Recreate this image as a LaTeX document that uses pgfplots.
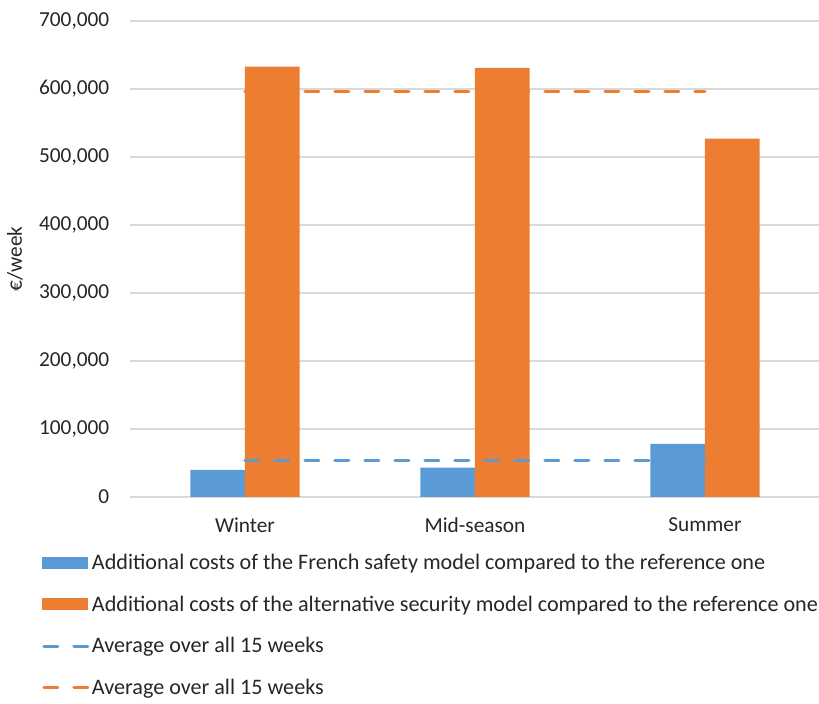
\documentclass[border=0pt]{standalone}
\usepackage{fontspec}
\setmainfont{Carlito}
\usepackage{pgfplots}
\pgfplotsset{compat=1.18}
\definecolor{cblue}{HTML}{5B9BD5}
\definecolor{corange}{HTML}{ED7D31}
\definecolor{cgrid}{HTML}{D9D9D9}
\begin{document}
\begin{tikzpicture}
\begin{axis}[
  scale only axis, width=517.5pt, height=357pt,
  xmin=-0.5, xmax=2.5, ymin=0, ymax=700000,
  xtick={0,1,2}, xticklabels={Winter,Mid-season,Summer},
  ytick={0,100000,200000,300000,400000,500000,600000,700000},
  scaled y ticks=false,
  /pgf/number format/.cd, fixed, 1000 sep={,}, assume math mode=true,
  /pgfplots/.cd,
  ymajorgrids, grid style={cgrid, line width=1pt},
  axis line style={draw=none},
  major tick length=0pt,
  tick label style={font=\fontsize{16}{19}\selectfont, text=black!85},
  xticklabel style={yshift=-12pt},
  yticklabel style={xshift=-12pt},
  ylabel={€/week}, ylabel style={font=\fontsize{16}{19}\selectfont, text=black!85,
    at={(axis description cs:-0.1667,0.5)}, anchor=center},
  ybar=0pt, bar width=41pt,
  legend style={at={(axis description cs:-0.1275,-0.1135)}, anchor=north west, draw=none, fill=none,
    font=\fontsize{16.6}{19}\selectfont, text=black!85, row sep=14.3pt, inner sep=0pt,
    /tikz/every even column/.append style={column sep=6pt}},
  legend cell align=left,
  clip=false,
]
\addplot[fill=cblue, draw=none, area legend,
  legend image code/.code={\fill[cblue] (0pt,-4.5pt) rectangle (34pt,4.5pt);}]
  coordinates {(0,40000) (1,43000) (2,78000)};
\addplot[fill=corange, draw=none, area legend,
  legend image code/.code={\fill[corange] (0pt,-4.5pt) rectangle (34pt,4.5pt);}]
  coordinates {(0,633000) (1,631000) (2,527000)};
\addplot[sharp plot, cblue, line width=2.25pt, line cap=round, dash pattern=on 10.5pt off 12pt,
  legend image code/.code={\draw[cblue, line width=2.25pt, line cap=round, dash pattern=on 10.5pt off 12pt] (1pt,0pt) -- (34pt,0pt);}]
  coordinates {(0,53000) (2,53000)};
\addplot[sharp plot, corange, line width=2.25pt, line cap=round, dash pattern=on 10.5pt off 12pt,
  legend image code/.code={\draw[corange, line width=2.25pt, line cap=round, dash pattern=on 10.5pt off 12pt] (1pt,0pt) -- (34pt,0pt);}]
  coordinates {(0,597000) (2,597000)};
\legend{Additional costs of the French safety model compared to the reference one,
  Additional costs of the alternative security model compared to the reference one,
  Average over all 15 weeks, Average over all 15 weeks}
\coordinate (bbll) at (rel axis cs:-0.1884,-0.4349);
\coordinate (bbur) at (rel axis cs:0.9986,1.0441);
\end{axis}
\pgfresetboundingbox
\path[use as bounding box] (bbll) rectangle (bbur);
\end{tikzpicture}
\end{document}
